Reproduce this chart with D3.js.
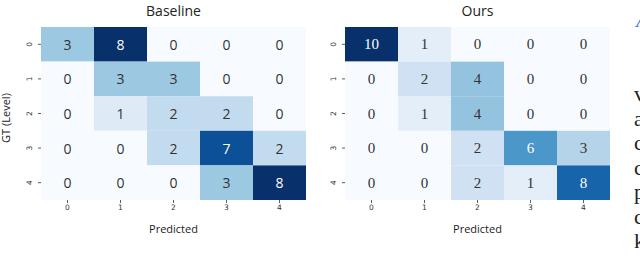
<!DOCTYPE html>
<html>
<head>
<meta charset="utf-8">
<script src="https://cdn.jsdelivr.net/npm/d3@7"></script>
<style>
  body { margin: 0; background: #fff; }
  svg { display: block; }
</style>
</head>
<body>
<svg width="640" height="265"></svg>
<script>
// confusion matrices, rows = GT level, cols = predicted
const levels = [0, 1, 2, 3, 4];
const baselineVals = [
  [3, 8, 0, 0, 0],
  [0, 3, 3, 0, 0],
  [0, 1, 2, 2, 0],
  [0, 0, 2, 7, 2],
  [0, 0, 0, 3, 8]
];
const oursVals = [
  [10, 1, 0, 0, 0],
  [0, 2, 4, 0, 0],
  [0, 1, 4, 0, 0],
  [0, 0, 2, 6, 3],
  [0, 0, 2, 1, 8]
];
const titles = ["Baseline", "Ours"];
// clipped paper text on the right edge
const sideLetters = ["v", "a", "c", "c", "p", "c", "k"];

var svg = d3.select("svg");
var top0 = 27, bottom0 = 200;

var y = d3.scaleBand().domain(levels).range([top0, bottom0]);

function lum(c) {
  let rgb = d3.rgb(c);
  let f = v => { v = v / 255; return v <= 0.03928 ? v / 12.92 : Math.pow((v + 0.055) / 1.055, 2.4); };
  return 0.2126 * f(rgb.r) + 0.7152 * f(rgb.g) + 0.0722 * f(rgb.b);
}

function drawMatrix(vals, x0, x1, title, numFont, numSize) {
  let g = svg.append("g");
  let x = d3.scaleBand().domain(levels).range([x0, x1]);
  let max = d3.max(vals.flat());
  let color = d3.scaleSequential(d3.interpolateBlues).domain([0, max]);

  let cells = [];
  vals.forEach((row, r) => row.forEach((v, c) => cells.push({ r: r, c: c, v: v })));

  g.selectAll("rect.cell").data(cells)
    .enter().append("rect")
    .attr("class", "cell")
    .attr("x", d => x(d.c))
    .attr("y", d => y(d.r))
    .attr("width", x.bandwidth())
    .attr("height", y.bandwidth())
    .attr("fill", d => color(d.v));

  g.selectAll("text.val").data(cells)
    .enter().append("text")
    .attr("class", "val")
    .attr("x", d => x(d.c) + x.bandwidth() / 2)
    .attr("y", d => y(d.r) + y.bandwidth() / 2)
    .attr("text-anchor", "middle")
    .attr("dominant-baseline", "central")
    .attr("font-family", numFont)
    .attr("font-size", numSize)
    .attr("fill", d => lum(color(d.v)) > 0.408 ? "#333333" : "#ffffff")
    .text(d => d.v);

  // y axis, labels turned on their side
  let ya = g.append("g")
    .attr("transform", `translate(${x0},0)`)
    .call(d3.axisLeft(y).tickSize(3).tickPadding(0));
  ya.select(".domain").remove();
  ya.selectAll(".tick line").attr("stroke", "#333").attr("stroke-width", 0.8);
  ya.selectAll(".tick text")
    .attr("x", null).attr("dy", null)
    .attr("text-anchor", "middle")
    .attr("dominant-baseline", "central")
    .attr("transform", "translate(-12,0) rotate(-90)")
    .attr("font-family", "DejaVu Sans")
    .attr("font-size", 7.5)
    .attr("fill", "#333");

  let xa = g.append("g")
    .attr("transform", `translate(0,${bottom0})`)
    .call(d3.axisBottom(x).tickSize(3).tickPadding(2));
  xa.select(".domain").remove();
  xa.selectAll(".tick line").attr("stroke", "#333").attr("stroke-width", 0.8);
  xa.selectAll(".tick text")
    .attr("font-family", "DejaVu Sans")
    .attr("font-size", 7.5)
    .attr("fill", "#333");

  let cx = (x0 + x1) / 2;
  g.append("text")
    .attr("x", cx).attr("y", 16)
    .attr("text-anchor", "middle")
    .attr("font-family", "Open Sans")
    .attr("font-size", 14)
    .attr("fill", "#222")
    .text(title);

  g.append("text")
    .attr("x", cx).attr("y", 233)
    .attr("text-anchor", "middle")
    .attr("font-family", "Open Sans")
    .attr("font-size", 11)
    .attr("fill", "#222")
    .text("Predicted");
}

drawMatrix(baselineVals, 41, 306, titles[0], "Open Sans", 14);
drawMatrix(oursVals, 345, 610, titles[1], "Liberation Serif", 15);

svg.append("text")
  .attr("transform", "translate(10,118) rotate(-90)")
  .attr("text-anchor", "middle")
  .attr("font-family", "Open Sans")
  .attr("font-size", 11)
  .attr("fill", "#222")
  .text("GT (Level)");

// page text peeking in at the right edge
svg.append("text")
  .attr("x", 636).attr("y", 27)
  .attr("font-family", "Liberation Serif")
  .attr("font-style", "italic")
  .attr("font-size", 22)
  .attr("fill", "#3b7fd0")
  .text("A");

svg.selectAll("text.side").data(sideLetters)
  .enter().append("text")
  .attr("class", "side")
  .attr("x", 634)
  .attr("y", (d, i) => 101 + i * 24.5)
  .attr("font-family", "Liberation Serif")
  .attr("font-size", 22)
  .attr("fill", "#222")
  .text(d => d);
</script>
</body>
</html>
